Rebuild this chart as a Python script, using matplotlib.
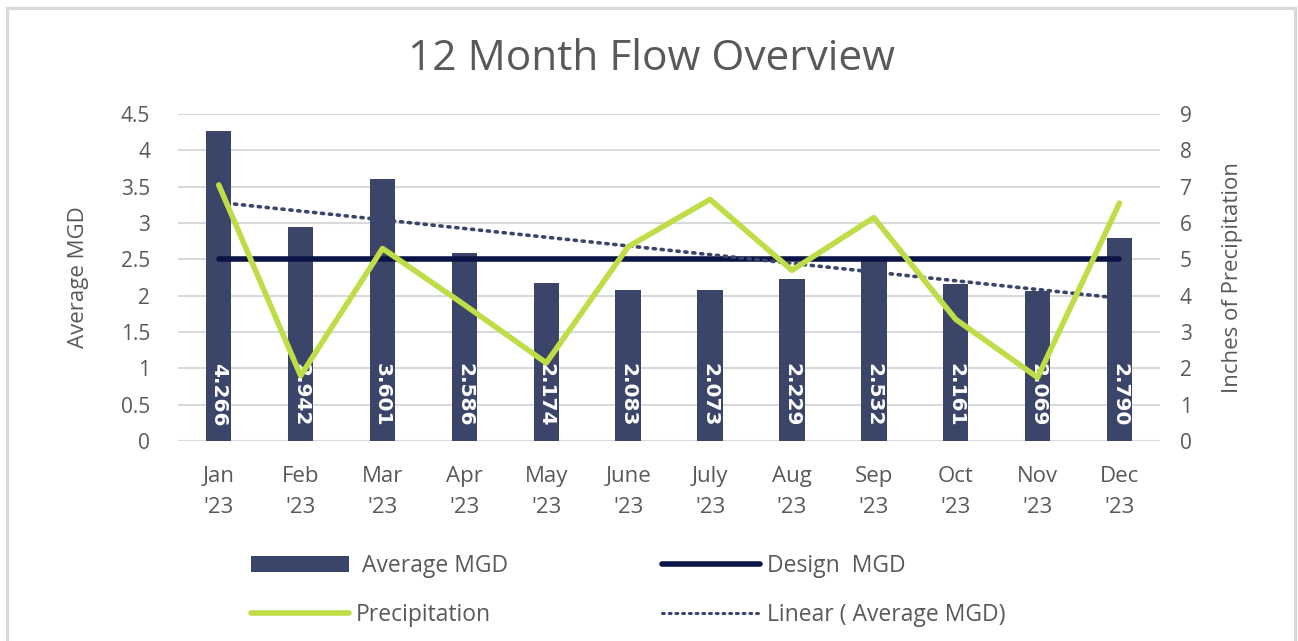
import matplotlib
matplotlib.use("Agg")
import matplotlib.pyplot as plt
import numpy as np
from matplotlib.patches import Patch, Rectangle
from matplotlib.lines import Line2D

# data
months = ["Jan\n'23", "Feb\n'23", "Mar\n'23", "Apr\n'23", "May\n'23", "June\n'23",
          "July\n'23", "Aug\n'23", "Sep\n'23", "Oct\n'23", "Nov\n'23", "Dec\n'23"]
avg_mgd = [4.266, 2.942, 3.601, 2.586, 2.174, 2.083, 2.073, 2.229, 2.532, 2.161, 2.069, 2.790]
design_mgd = [2.5] * 12
precip = [7.05, 1.8, 5.3, 3.75, 2.15, 5.35, 6.65, 4.7, 6.15, 3.35, 1.75, 6.55]

bar_color = "#3b4469"
design_color = "#0b1446"
precip_color = "#bedd47"
text_color = "#595959"
grid_color = "#d9d9d9"

plt.rcParams["font.family"] = ["Open Sans", "DejaVu Sans"]

fig = plt.figure(figsize=(12.98, 6.41), dpi=100)
ax = fig.add_axes([0.137, 0.312, 0.757, 0.51])
x = np.arange(len(months))

# bars + labels
ax.bar(x, avg_mgd, width=0.31, color=bar_color, zorder=2)
for xi, v in zip(x, avg_mgd):
    ax.text(xi, 0.2, f"{v:.3f}", rotation=-90, ha="center", va="bottom",
            color="white", fontsize=14.5, fontweight="bold",
            family=["Liberation Sans Narrow", "DejaVu Sans"], zorder=3)

# design line
ax.plot(x, design_mgd, color=design_color, lw=4, solid_capstyle="round", zorder=4)

# linear trend of average MGD
k, b = np.polyfit(x, avg_mgd, 1)
ax.plot(x, k * x + b, color=bar_color, lw=2.6, linestyle=(0, (0.6, 1.6)),
        dash_capstyle="round", zorder=5)

ax.set_xlim(-0.5, len(months) - 0.5)
ax.set_ylim(0, 4.5)
ax.set_yticks(np.arange(0, 4.51, 0.5))
ax.set_yticklabels(["0", "0.5", "1", "1.5", "2", "2.5", "3", "3.5", "4", "4.5"])
ax.set_xticks(x)
ax.set_xticklabels(months, linespacing=1.62)
ax.grid(axis="y", color=grid_color, lw=1.5, zorder=0)
ax.set_axisbelow(True)
for s in ax.spines.values():
    s.set_visible(False)
ax.tick_params(axis="y", length=0, labelsize=15, colors=text_color, pad=20)
ax.tick_params(axis="x", length=0, labelsize=16, colors=text_color, pad=18)
ax.set_ylabel("Average MGD", fontsize=16, color=text_color, labelpad=23)

# precipitation on secondary axis
ax2 = ax.twinx()
ax2.plot(x, precip, color=precip_color, lw=4, solid_capstyle="round", zorder=6)
ax2.set_ylim(0, 9)
ax2.set_yticks(range(0, 10))
for s in ax2.spines.values():
    s.set_visible(False)
ax2.tick_params(length=0, labelsize=15, colors=text_color, pad=14)
ax2.set_ylabel("Inches of Precipitation", fontsize=16, color=text_color, labelpad=22)

fig.text(0.502, 0.908, "12 Month Flow Overview", ha="center", va="center",
         fontsize=30.5, color=text_color)

handles = [
    Patch(facecolor=bar_color, edgecolor="none"),
    Line2D([], [], color=precip_color, lw=4, solid_capstyle="round"),
    Line2D([], [], color=design_color, lw=4, solid_capstyle="round"),
    Line2D([], [], color=bar_color, lw=2.2, linestyle=(0, (0.6, 1.6)), dash_capstyle="round"),
]
labels = [" Average MGD", "Precipitation", "Design  MGD", "Linear ( Average MGD)"]
fig.legend(handles, labels, ncol=2, loc="center", bbox_to_anchor=(0.484, 0.079),
           frameon=False, fontsize=16.5, labelcolor=text_color, handlelength=4.3,
           handleheight=0.7, handletextpad=0.3, columnspacing=6.7, labelspacing=1.1)

# outer border (bottom edge runs off the image)
fig.patches.append(Rectangle((7 / 1298, -0.05), 1288 / 1298, 1.05 - 8 / 641,
                             transform=fig.transFigure, fill=False,
                             edgecolor="#d9d9d9", lw=2.2))

fig.savefig("out.png", dpi=100)
